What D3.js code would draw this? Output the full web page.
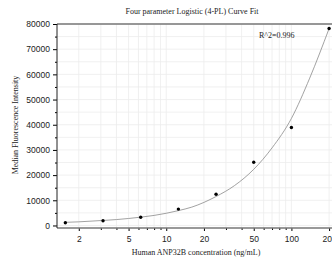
<!DOCTYPE html>
<html>
<head>
<meta charset="utf-8">
<script src="https://cdn.jsdelivr.net/npm/d3@7"></script>
<style>
  body { margin: 0; background: #fff; }
  svg { display: block; font-family: "Liberation Serif", "DejaVu Serif", serif; }
</style>
</head>
<body>
<script>
// measured standards
const conc = [1.5625, 3.125, 6.25, 12.5, 25, 50, 100, 200];
const mfi = [1100, 1900, 3250, 6500, 12400, 25100, 38900, 78200];

// fitted curve
const fitConc = [1.5625, 2, 3.125, 4, 6.25, 8, 12.5, 16, 25, 35, 50, 70, 100, 140, 200];
const fitMfi = [1250, 1450, 2000, 2350, 3300, 4000, 5900, 7300, 11500, 15800, 22300, 30800, 42500, 58500, 78200];

const xMajor = [2, 5, 10, 20, 50, 100, 200];
const xMinor = [3, 4, 6, 7, 8, 9, 30, 40, 60, 70, 80, 90];
const yMajor = [0, 10000, 20000, 30000, 40000, 50000, 60000, 70000, 80000];
const yMinor = [5000, 15000, 25000, 35000, 45000, 55000, 65000, 75000];

const rSquared = "R^2=0.996";

const w = 332, h = 264;
const plotL = 57, plotR = 335, plotT = 24, plotB = 228;

const xScale = d3.scaleLog()
                 .domain([1.34, 223])
                 .range([plotL, plotR]);

const yScale = d3.scaleLinear()
                 .domain([-1000, 80000])
                 .range([plotB, plotT]);

const svg = d3.select('body').append('svg')
              .attr('width', w)
              .attr('height', h);

// grid
svg.append('g')
   .selectAll('line')
   .data(xMajor.concat(xMinor))
   .enter().append('line')
   .attr('x1', d => xScale(d)).attr('x2', d => xScale(d))
   .attr('y1', plotT).attr('y2', plotB)
   .attr('stroke', '#ececec')
   .attr('stroke-width', 0.8);

svg.append('g')
   .selectAll('line')
   .data(yMajor.concat(yMinor))
   .enter().append('line')
   .attr('x1', plotL).attr('x2', plotR)
   .attr('y1', d => yScale(d)).attr('y2', d => yScale(d))
   .attr('stroke', '#ececec')
   .attr('stroke-width', 0.8);

// axes
const xAxis = d3.axisBottom(xScale)
                .tickValues(xMajor)
                .tickFormat(d3.format('d'))
                .tickSize(3);
const xAxisMinor = d3.axisBottom(xScale)
                .tickValues(xMinor)
                .tickFormat('')
                .tickSize(2);
const yAxis = d3.axisLeft(yScale)
                .tickValues(yMajor)
                .tickFormat(d3.format('d'))
                .tickSize(4);
const yAxisMinor = d3.axisLeft(yScale)
                .tickValues(yMinor)
                .tickFormat('')
                .tickSize(2);

svg.append('g')
   .attr('transform', 'translate(0,' + plotB + ')')
   .call(xAxis)
   .call(g => g.select('.domain').remove())
   .call(g => g.selectAll('text').attr('dy', '0.9em').style('font-size', '8.5px').attr('fill', '#222'));
svg.append('g')
   .attr('transform', 'translate(0,' + plotB + ')')
   .call(xAxisMinor)
   .call(g => g.select('.domain').remove());

svg.append('g')
   .attr('transform', 'translate(' + plotL + ',0)')
   .call(yAxis)
   .call(g => g.select('.domain').remove())
   .call(g => g.selectAll('text').style('font-size', '8.5px').attr('fill', '#222'));
svg.append('g')
   .attr('transform', 'translate(' + plotL + ',0)')
   .call(yAxisMinor)
   .call(g => g.select('.domain').remove());

// frame: grey top and bottom, dark left
svg.append('line')
   .attr('x1', plotL).attr('x2', plotR)
   .attr('y1', plotT).attr('y2', plotT)
   .attr('stroke', '#777').attr('stroke-width', 1.6);
svg.append('line')
   .attr('x1', plotL).attr('x2', plotR)
   .attr('y1', plotB).attr('y2', plotB)
   .attr('stroke', '#777').attr('stroke-width', 1.6);
svg.append('line')
   .attr('x1', plotL).attr('x2', plotL)
   .attr('y1', plotT).attr('y2', plotB)
   .attr('stroke', '#222').attr('stroke-width', 1);

// fitted curve
const line = d3.line()
               .x((d, i) => xScale(fitConc[i]))
               .y(d => yScale(d))
               .curve(d3.curveMonotoneX);

svg.append('path')
   .datum(fitMfi)
   .attr('d', line)
   .attr('fill', 'none')
   .attr('stroke', '#8a8a8a')
   .attr('stroke-width', 0.8);

// points
svg.append('g')
   .selectAll('circle')
   .data(mfi)
   .enter().append('circle')
   .attr('cx', (d, i) => xScale(conc[i]))
   .attr('cy', d => yScale(d))
   .attr('r', 1.7)
   .attr('fill', '#000');

// texts
svg.append('text')
   .attr('x', 192)
   .attr('y', 14)
   .attr('text-anchor', 'middle')
   .style('font-size', '8px')
   .attr('fill', '#222')
   .text('Four parameter Logistic (4-PL) Curve Fit');

svg.append('text')
   .attr('x', 259)
   .attr('y', 38)
   .style('font-size', '8px')
   .attr('fill', '#222')
   .text(rSquared);

svg.append('text')
   .attr('x', 196)
   .attr('y', 255)
   .attr('text-anchor', 'middle')
   .style('font-size', '8px')
   .attr('fill', '#222')
   .text('Human ANP32B concentration (ng/mL)');

svg.append('text')
   .attr('transform', 'translate(18,125) rotate(-90)')
   .attr('text-anchor', 'middle')
   .style('font-size', '8px')
   .attr('fill', '#222')
   .text('Median Fluorescence Intensity');
</script>
</body>
</html>
